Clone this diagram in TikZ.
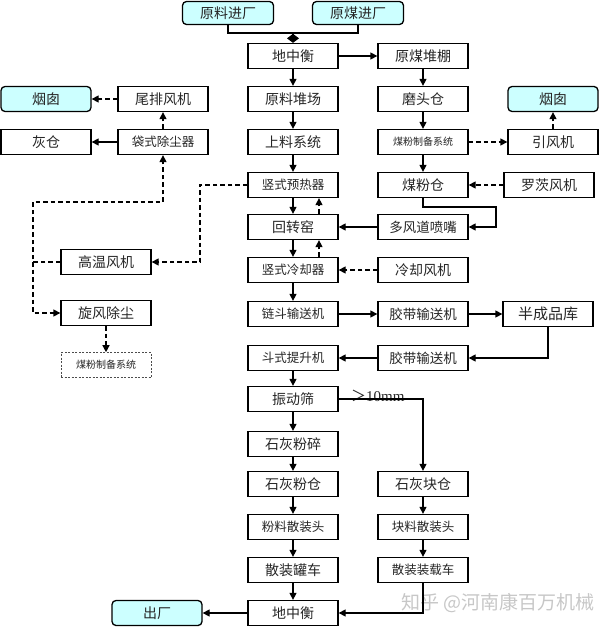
\documentclass[tikz,border=0pt]{standalone}
\usepackage{fontspec}
\setmainfont{Noto Sans CJK SC}
\newfontfamily\latf{Liberation Serif}
\usetikzlibrary{arrows.meta}
\definecolor{cyanfill}{HTML}{CCFFFF}
\begin{document}
\begin{tikzpicture}[x=1pt,y=-1pt,
 box/.style={draw,line width=1.3pt,minimum width=90pt,minimum height=25pt,inner sep=0pt,fill=white,text=black!85,font=\fontsize{14}{16}\selectfont},
 sbox/.style={box,font=\fontsize{12.5}{14}\selectfont},
 mbox/.style={box,font=\fontsize{13.5}{15}\selectfont},
 tbox/.style={box,font=\fontsize{10}{12}\selectfont},
 cbox/.style={box,rounded corners=4pt,fill=cyanfill},
 flow/.style={line width=1.3pt,-{Triangle[length=7pt,width=7pt]}},
 gas/.style={flow,dash pattern=on 4.5pt off 3pt},
]
\useasboundingbox (0,0) rectangle (602,628);
% watermark
\node[text=black!22,font=\fontsize{19}{21}\selectfont,inner sep=0pt] (wm) at (498,603) {知乎 @河南康百万机械};
% top inputs
\node[cbox,minimum width=91pt,minimum height=23pt] (ylin) at (228,13) {原料进厂};
\node[cbox,minimum width=91pt,minimum height=23pt] (ymin) at (358,13) {原煤进厂};
% middle column
\node[box] (dzh1) at (293,56) {地中衡};
\node[box] (ylc) at (293,99) {原料堆场};
\node[box] (slx) at (293,142) {上料系统};
\node[sbox] (yrq) at (293,185) {竖式预热器};
\node[box] (hzy) at (293,227) {回转窑};
\node[sbox] (lqq) at (293,270) {竖式冷却器};
\node[sbox] (ldj) at (293,314) {链斗输送机};
\node[sbox] (dts) at (293,358) {斗式提升机};
\node[box] (zds) at (293,399) {振动筛};
\node[box] (shfs) at (293,444) {石灰粉碎};
\node[box] (shfc) at (293,484) {石灰粉仓};
\node[sbox] (flst) at (293,527) {粉料散装头};
\node[box] (sgc) at (293,570) {散装罐车};
\node[box] (dzh2) at (293,613) {地中衡};
% second column
\node[box] (ymp) at (423,56) {原煤堆棚};
\node[box] (mtc) at (423,99) {磨头仓};
\node[tbox] (mfz) at (423,142) {煤粉制备系统};
\node[box] (mfc) at (423,185) {煤粉仓};
\node[mbox] (dfd) at (423,227) {多风道喷嘴};
\node[box] (lqf) at (423,270) {冷却风机};
\node[mbox] (jd1) at (423,314) {胶带输送机};
\node[mbox] (jd2) at (423,358) {胶带输送机};
\node[box] (shkc) at (423,484) {石灰块仓};
\node[sbox] (klst) at (423,527) {块料散装头};
\node[sbox] (szc) at (423,570) {散装装载车};
% right column
\node[cbox] (yc2) at (553,99) {烟囱};
\node[box] (yfj) at (553,142) {引风机};
\node[box] (lcf) at (549,185) {罗茨风机};
\node[box,font=\fontsize{15}{17}\selectfont] (bcp) at (548,314) {半成品库};
% left side
\node[cbox] (yc1) at (46,99) {烟囱};
\node[box] (wpf) at (163,99) {尾排风机};
\node[box] (hc) at (46,142) {灰仓};
\node[sbox] (dsc) at (163,142) {袋式除尘器};
\node[box] (gwf) at (106,262) {高温风机};
\node[box] (xfc) at (106,313) {旋风除尘};
\node[tbox,draw=black!70,line width=0.6pt,dash pattern=on 2pt off 1.5pt] (mfz2) at (106,365) {煤粉制备系统};
\node[cbox] (cc) at (157,613) {出厂};
% label
\node[anchor=base west,inner sep=0pt,text=black!85] (lbl) at (351,401) {{\fontsize{15}{16}\selectfont ＞}{\latf\fontsize{15}{16}\selectfont 10mm}};
% junction
\coordinate (jn) at (293,33);
\draw[line width=1.3pt] (ylin.south) |- (jn);
\draw[line width=1.3pt] (ymin.south) |- (jn);
\draw[line width=1.3pt,-{Diamond[length=9pt,width=12pt]}] (jn) -- (dzh1.north);
% main flow
\draw[flow] (dzh1) -- (ylc);
\draw[flow] (ylc) -- (slx);
\draw[flow] (slx) -- (yrq);
\draw[flow] (yrq) -- (hzy);
\draw[flow] (hzy) -- (lqq);
\draw[flow] (lqq) -- (ldj);
\draw[flow] (dts) -- (zds);
\draw[flow] (zds) -- (shfs);
\draw[flow] (shfs) -- (shfc);
\draw[flow] (shfc) -- (flst);
\draw[flow] (flst) -- (sgc);
\draw[flow] (sgc) -- (dzh2);
\draw[flow] (dzh2) -- (cc);
\draw[flow] (dzh1) -- (ymp);
\draw[flow] (ymp) -- (mtc);
\draw[flow] (mtc) -- (mfz);
\draw[flow] (mfz) -- (mfc);
\draw[flow] (ldj) -- (jd1);
\draw[flow] (jd1) -- (bcp);
\draw[flow] (bcp.south) |- (jd2.east);
\draw[flow] (jd2) -- (dts);
\draw[flow] (zds.east) -| (shkc.north);
\draw[flow] (shkc) -- (klst);
\draw[flow] (klst) -- (szc);
\draw[flow] (szc.south) |- (dzh2.east);
\coordinate (c5) at (496,207);
\draw[flow] (mfc.south) |- (c5) |- (dfd.east);
\draw[flow] (dfd) -- (hzy);
\draw[flow] (dsc) -- (hc);
% gas flows
\draw[gas] ([xshift=26pt]hzy.north) -- ([xshift=26pt]yrq.south);
\draw[gas] ([xshift=26pt]lqq.north) -- ([xshift=26pt]hzy.south);
\draw[gas] (lqf) -- (lqq);
\draw[gas] (lcf) -- (mfc);
\draw[gas] (mfz) -- (yfj);
\draw[gas] (yfj) -- (yc2);
\draw[gas] (wpf) -- (yc1);
\draw[gas] (dsc) -- (wpf);
\coordinate (c1) at (200,185);
\draw[gas] (yrq.west) -- (c1) |- (gwf.east);
\coordinate (c2) at (33,262);
\coordinate (c3) at (33,202);
\draw[gas] (gwf.west) -- (c2) -- (c3) -| (dsc.south);
\draw[gas] (c2) |- (xfc.west);
\draw[gas] (xfc) -- (mfz2);
\end{tikzpicture}
\end{document}
